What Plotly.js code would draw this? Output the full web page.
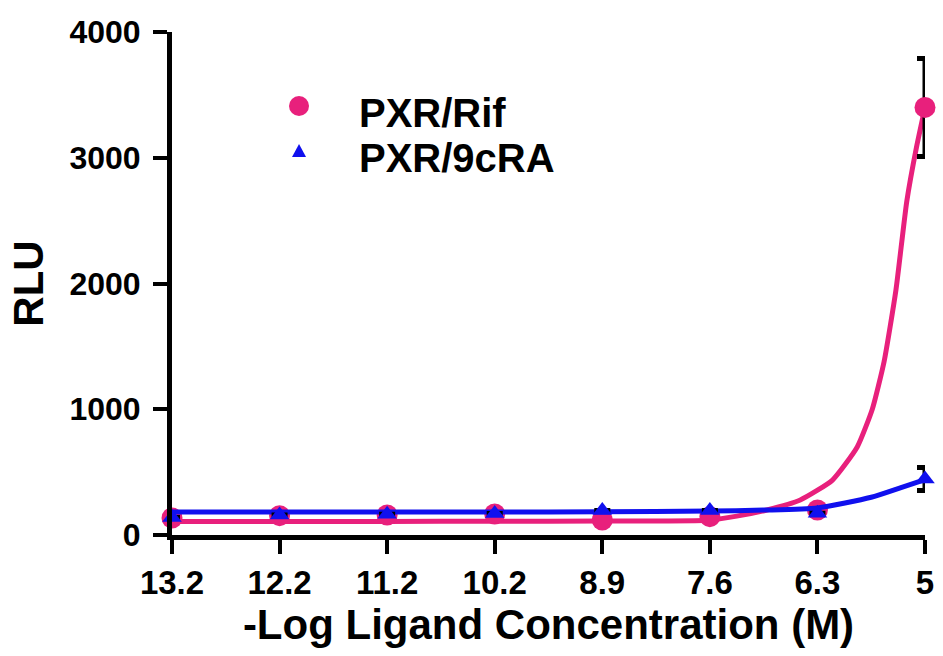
<!DOCTYPE html>
<html>
<head>
<meta charset="utf-8">
<script src="https://cdn.plot.ly/plotly-3.0.1.min.js"></script>
<style>html,body{margin:0;padding:0;background:#fff;}#chart{width:943px;height:656px;}</style>
</head>
<body>
<div id="chart"></div>
<script>
// Category labels (-log concentration), plotted evenly spaced
const xLabels = ['13.2','12.2','11.2','10.2','8.9','7.6','6.3','5'];
const xIndex = [0,1,2,3,4,5,6,7];

// PXR/Rif measured means and errors
const rifMean = [135,154,159,167,119,146,199,3400];
const rifErr  = [0,0,0,0,0,0,0,390];

// PXR/9cRA measured means and errors
const craMean = [140,160,165,170,195,195,172,445];
const craErr  = [0,0,0,0,0,0,0,92];

// fitted curves (x in category index units)
const rifFitX = [0,1,2,3,4,4.98,5.25,5.53,5.84,6.14,6.37,6.51,6.62,6.73,6.83,6.92,7];
const rifFitY = [108,108,108,109,111,118,150,199,278,437,700,1000,1380,1950,2650,3080,3400];
const craFitX = [0,1,2,3,4,5,5.5,6,6.5,6.77,7];
const craFitY = [183,183,183,183,185,190,198,215,300,375,440];

// legend labels
const legendNames = ['PXR/Rif','PXR/9cRA'];

const pink = '#E8207C';
const blue = '#1010EE';
const fontFam = 'Arial, "Liberation Sans", sans-serif';

const traces = [
  {x: rifFitX, y: rifFitY, mode: 'lines', line: {color: pink, width: 5, shape: 'spline', smoothing: 0.5}, showlegend: false, hoverinfo: 'skip', cliponaxis: false},
  {x: xIndex, y: rifMean, name: legendNames[0], mode: 'markers', marker: {color: pink, size: 21, symbol: 'circle'}, showlegend: false,
   error_y: {type: 'data', array: rifErr, visible: true, color: '#000', thickness: 5, width: 8}, cliponaxis: false},
  {x: craFitX, y: craFitY, mode: 'lines', line: {color: blue, width: 5, shape: 'spline', smoothing: 0.6}, showlegend: false, hoverinfo: 'skip', cliponaxis: false},
  {x: xIndex, y: craMean, name: legendNames[1], mode: 'markers', marker: {color: blue, size: 17, symbol: 'triangle-up'}, showlegend: false,
   error_y: {type: 'data', array: craErr, visible: true, color: '#000', thickness: 5, width: 8}, cliponaxis: false}
];

const legendFont = {size: 40, family: fontFam, weight: 'bold', color: '#000'};

const layout = {
  width: 943, height: 656,
  margin: {l: 172, r: 18, t: 32, b: 121},
  paper_bgcolor: '#fff', plot_bgcolor: '#fff',
  font: {family: fontFam, color: '#000'},
  showlegend: false,
  annotations: [
    {xref: 'paper', yref: 'paper', x: 0.247, y: 0.839, xanchor: 'left', yanchor: 'middle', showarrow: false, text: legendNames[0], font: legendFont, borderpad: 0},
    {xref: 'paper', yref: 'paper', x: 0.247, y: 0.7495, xanchor: 'left', yanchor: 'middle', showarrow: false, text: legendNames[1], font: legendFont, borderpad: 0}
  ],
  shapes: [
    {type: 'circle', xref: 'paper', yref: 'paper', xsizemode: 'pixel', ysizemode: 'pixel',
     xanchor: 0.1687, yanchor: 0.8529, x0: -10, x1: 10, y0: -10, y1: 10,
     fillcolor: pink, line: {width: 0}},
    {type: 'path', xref: 'paper', yref: 'paper', xsizemode: 'pixel', ysizemode: 'pixel',
     xanchor: 0.1687, yanchor: 0.7634, path: 'M-7,-6 L7,-6 L0,7 Z',
     fillcolor: blue, line: {width: 0}}
  ],
  xaxis: {
    range: [0, 7], tickmode: 'array', tickvals: xIndex, ticktext: xLabels,
    showgrid: false, zeroline: false, showline: true, linecolor: '#000', linewidth: 5,
    ticks: 'outside', ticklen: 14, tickwidth: 4, tickcolor: '#000', ticklabelstandoff: 0,
    tickfont: {size: 33, family: fontFam, weight: 'bold'},
    title: {text: '-Log Ligand Concentration (M)', font: {size: 42, family: fontFam, weight: 'bold'}, standoff: 1}
  },
  yaxis: {
    range: [0, 4000], tickmode: 'array', tickvals: [0,1000,2000,3000,4000],
    showgrid: false, zeroline: false, showline: true, linecolor: '#000', linewidth: 5,
    ticks: 'outside', ticklen: 14, tickwidth: 4, tickcolor: '#000', ticklabelstandoff: 6,
    tickfont: {size: 32, family: fontFam, weight: 'bold'},
    title: {text: 'RLU', font: {size: 42, family: fontFam, weight: 'bold'}, standoff: 14}
  }
};

Plotly.newPlot('chart', traces, layout, {displayModeBar: false, staticPlot: true});
</script>
</body>
</html>
